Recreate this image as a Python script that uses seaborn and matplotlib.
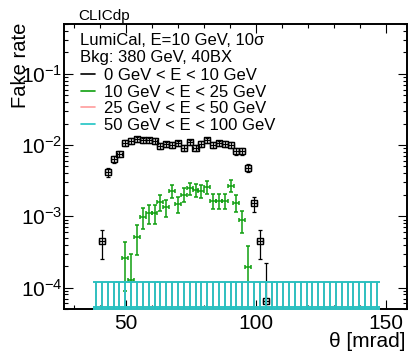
import numpy as np
import matplotlib
matplotlib.use("Agg")
import matplotlib.pyplot as plt
import seaborn as sns
from matplotlib.lines import Line2D
from matplotlib.ticker import MultipleLocator, LogLocator, NullFormatter, LogFormatterMathtext

# ---------------- data ----------------
bin_half = 1.1224  # half bin width in mrad

theta_all = [38.62, 40.87, 43.11, 45.36, 47.60, 49.85, 52.09, 54.34, 56.58, 58.83,
             61.07, 63.32, 65.56, 67.81, 70.05, 72.30, 74.54, 76.79, 79.03, 81.28,
             83.52, 85.77, 88.01, 90.26, 92.50, 94.75, 96.99, 99.24, 101.48, 103.73,
             105.97, 108.22, 110.46, 112.71, 114.95, 117.20, 119.44, 121.69, 123.93, 126.18,
             128.42, 130.67, 132.91, 135.16, 137.40, 139.65, 141.89, 144.14, 146.38]

# 0 GeV < E < 10 GeV
theta_black = [40.87, 43.11, 45.36, 47.60, 49.85, 52.09, 54.34, 56.58, 58.83, 61.07,
               63.32, 65.56, 67.81, 70.05, 72.30, 74.54, 76.79, 79.03, 81.28, 83.52,
               85.77, 88.01, 90.26, 92.50, 94.75, 96.99, 99.24, 101.48, 103.73]
rate_black = [4.5e-4, 4.2e-3, 6.3e-3, 7.5e-3, 1.08e-2, 1.15e-2, 1.21e-2, 1.17e-2, 1.17e-2, 1.14e-2,
              9.8e-3, 1.02e-2, 1.0e-2, 1.06e-2, 9.1e-3, 1.09e-2, 9.2e-3, 1.03e-2, 1.17e-2, 1.0e-2,
              1.06e-2, 1.03e-2, 1.0e-2, 8.2e-3, 8.2e-3, 4.8e-3, 1.52e-3, 4.5e-4, 6.4e-5]
err_black = [2.0e-4, 6.0e-4, 7.5e-4, 8.0e-4, 9.5e-4, 1.0e-3, 1.0e-3, 1.0e-3, 1.0e-3, 1.0e-3,
             9.4e-4, 9.6e-4, 9.5e-4, 9.8e-4, 9.0e-4, 9.9e-4, 9.1e-4, 9.6e-4, 1.0e-3, 9.5e-4,
             9.8e-4, 9.6e-4, 9.5e-4, 8.6e-4, 8.6e-4, 6.6e-4, 3.6e-4, 2.0e-4, 1.55e-4]

# 10 GeV < E < 25 GeV
theta_green = [49.85, 52.09, 54.34, 56.58, 58.83, 61.07, 63.32, 65.56, 67.81, 70.05,
               72.30, 74.54, 76.79, 79.03, 81.28, 83.52, 85.77, 88.01, 90.26, 92.50,
               94.75, 96.99]
rate_green = [2.6e-4, 1.27e-4, 5.2e-4, 9.8e-4, 1.1e-3, 1.1e-3, 1.6e-3, 1.34e-3, 2.3e-3, 1.49e-3,
              2.02e-3, 2.47e-3, 2.33e-3, 2.29e-3, 2.58e-3, 1.66e-3, 1.66e-3, 1.66e-3, 2.7e-3, 1.56e-3,
              8.9e-4, 1.96e-4]
err_green = [1.7e-4, 1.7e-4, 2.3e-4, 3.1e-4, 3.3e-4, 3.3e-4, 4.0e-4, 3.7e-4, 4.8e-4, 3.9e-4,
             4.5e-4, 5.0e-4, 4.8e-4, 4.8e-4, 5.1e-4, 4.1e-4, 4.1e-4, 4.1e-4, 5.2e-4, 4.0e-4,
             3.0e-4, 1.86e-4]

# 25 GeV < E < 50 GeV  (empty bins, hidden under the cyan band)
rate_red = [5.25e-5, 5.25e-5, 5.25e-5, 5.25e-5, 5.25e-5, 5.25e-5, 5.25e-5, 5.25e-5, 5.25e-5, 5.25e-5,
            5.25e-5, 5.25e-5, 5.25e-5, 5.25e-5, 5.25e-5, 5.25e-5, 5.25e-5, 5.25e-5, 5.25e-5, 5.25e-5,
            5.25e-5, 5.25e-5, 5.25e-5, 5.25e-5, 5.25e-5, 5.25e-5, 5.25e-5, 5.25e-5, 5.25e-5, 5.25e-5,
            5.25e-5, 5.25e-5, 5.25e-5, 5.25e-5, 5.25e-5, 5.25e-5, 5.25e-5, 5.25e-5, 5.25e-5, 5.25e-5,
            5.25e-5, 5.25e-5, 5.25e-5, 5.25e-5, 5.25e-5, 5.25e-5, 5.25e-5, 5.25e-5, 5.25e-5]
# 50 GeV < E < 100 GeV (empty bins with upper error)
rate_cyan = list(rate_red)
err_lo_empty = 3.0e-6
err_up_empty = 6.85e-5

labels = ["0 GeV < E < 10 GeV", "10 GeV < E < 25 GeV",
          "25 GeV < E < 50 GeV", "50 GeV < E < 100 GeV"]
colors = ["#000000", "#0f9f0f", "#ff9c9c", "#1fc4c4"]
header = ["LumiCal, E=10 GeV, 10\u03c3", "Bkg: 380 GeV, 40BX"]

# ---------------- style ----------------
sns.set_theme(style="ticks")
plt.rcParams["font.family"] = ["Liberation Sans", "DejaVu Sans"]
plt.rcParams["text.color"] = "black"
plt.rcParams["axes.labelcolor"] = "black"
plt.rcParams["xtick.color"] = "black"
plt.rcParams["ytick.color"] = "black"
plt.rcParams["mathtext.fontset"] = "custom"
plt.rcParams["mathtext.rm"] = "Liberation Sans"
plt.rcParams["mathtext.it"] = "Liberation Sans:italic"
plt.rcParams["mathtext.default"] = "regular"

fig = plt.figure(figsize=(4.08, 3.55), dpi=100)
ax = fig.add_axes([64 / 408, 46 / 355, 342.5 / 408, 285 / 355])

# black: markers + error bars
ax.errorbar(theta_black, rate_black, xerr=bin_half, yerr=err_black, fmt="none",
            ecolor=colors[0], elinewidth=0.9, capsize=1.4, capthick=0.9, zorder=3)
sns.scatterplot(x=theta_black, y=rate_black, marker="s", s=19, facecolor="none",
                edgecolor=colors[0], linewidth=1.0, ax=ax, zorder=4)

# green
ax.errorbar(theta_green, rate_green, xerr=bin_half, yerr=err_green, fmt="none",
            ecolor=colors[1], elinewidth=1.1, capsize=1.5, capthick=1.1, zorder=4)

# red (hidden) and cyan
for rates, col, z in [(rate_red, colors[2], 5), (rate_cyan, colors[3], 6)]:
    ax.errorbar(theta_all, rates, yerr=[[err_lo_empty] * len(rates), [err_up_empty] * len(rates)],
                fmt="none", ecolor=col, elinewidth=1.3, capsize=2.25, capthick=1.3, zorder=z)
    ax.errorbar(theta_all, rates, xerr=bin_half, fmt="none", ecolor=col,
                elinewidth=1.3, capsize=0, zorder=z)

ax.set_yscale("log")
ax.set_xlim(26.3, 157.8)
ax.set_ylim(5e-5, 0.5)

ax.xaxis.set_major_locator(MultipleLocator(50))
ax.xaxis.set_minor_locator(MultipleLocator(10))
ax.yaxis.set_major_locator(LogLocator(base=10, numticks=10))
ax.yaxis.set_minor_locator(LogLocator(base=10, subs=np.arange(2, 10), numticks=20))
ax.yaxis.set_major_formatter(LogFormatterMathtext())
ax.yaxis.set_minor_formatter(NullFormatter())

ax.tick_params(which="both", direction="in", top=True, right=True, colors="black",
               width=0.8, labelsize=15)
ax.tick_params(which="major", length=6.3)
ax.tick_params(which="minor", length=3.2)
ax.tick_params(axis="x", which="major", pad=3.5)
ax.tick_params(axis="y", which="major", pad=1)
for sp in ax.spines.values():
    sp.set_linewidth(1.4)
    sp.set_color("black")

ax.set_xlabel("\u03b8 [mrad]", fontsize=15, loc="right", color="black")
ax.xaxis.set_label_coords(0.996, -0.082)
ax.set_ylabel("Fake rate", fontsize=14.5, loc="top", color="black")
ax.yaxis.set_label_coords(-0.1, 1.005)

ax.text(0.042, 1.014, "CLICdp", transform=ax.transAxes, fontsize=11,
        ha="left", va="baseline", color="black")
ax.text(0.047, 0.928, header[0], transform=ax.transAxes, fontsize=12,
        ha="left", va="baseline", color="black")
ax.text(0.047, 0.867, header[1], transform=ax.transAxes, fontsize=12,
        ha="left", va="baseline", color="black")

handles = [Line2D([], [], color=c, lw=1.2) for c in colors]
leg = ax.legend(handles, labels, loc="upper left", bbox_to_anchor=(0.0496, 0.846),
                frameon=False, fontsize=12, borderpad=0, borderaxespad=0,
                handlelength=0.85, handletextpad=0.55, labelspacing=0.1)
for t in leg.get_texts():
    t.set_color("black")

fig.savefig("out.png", dpi=100)
